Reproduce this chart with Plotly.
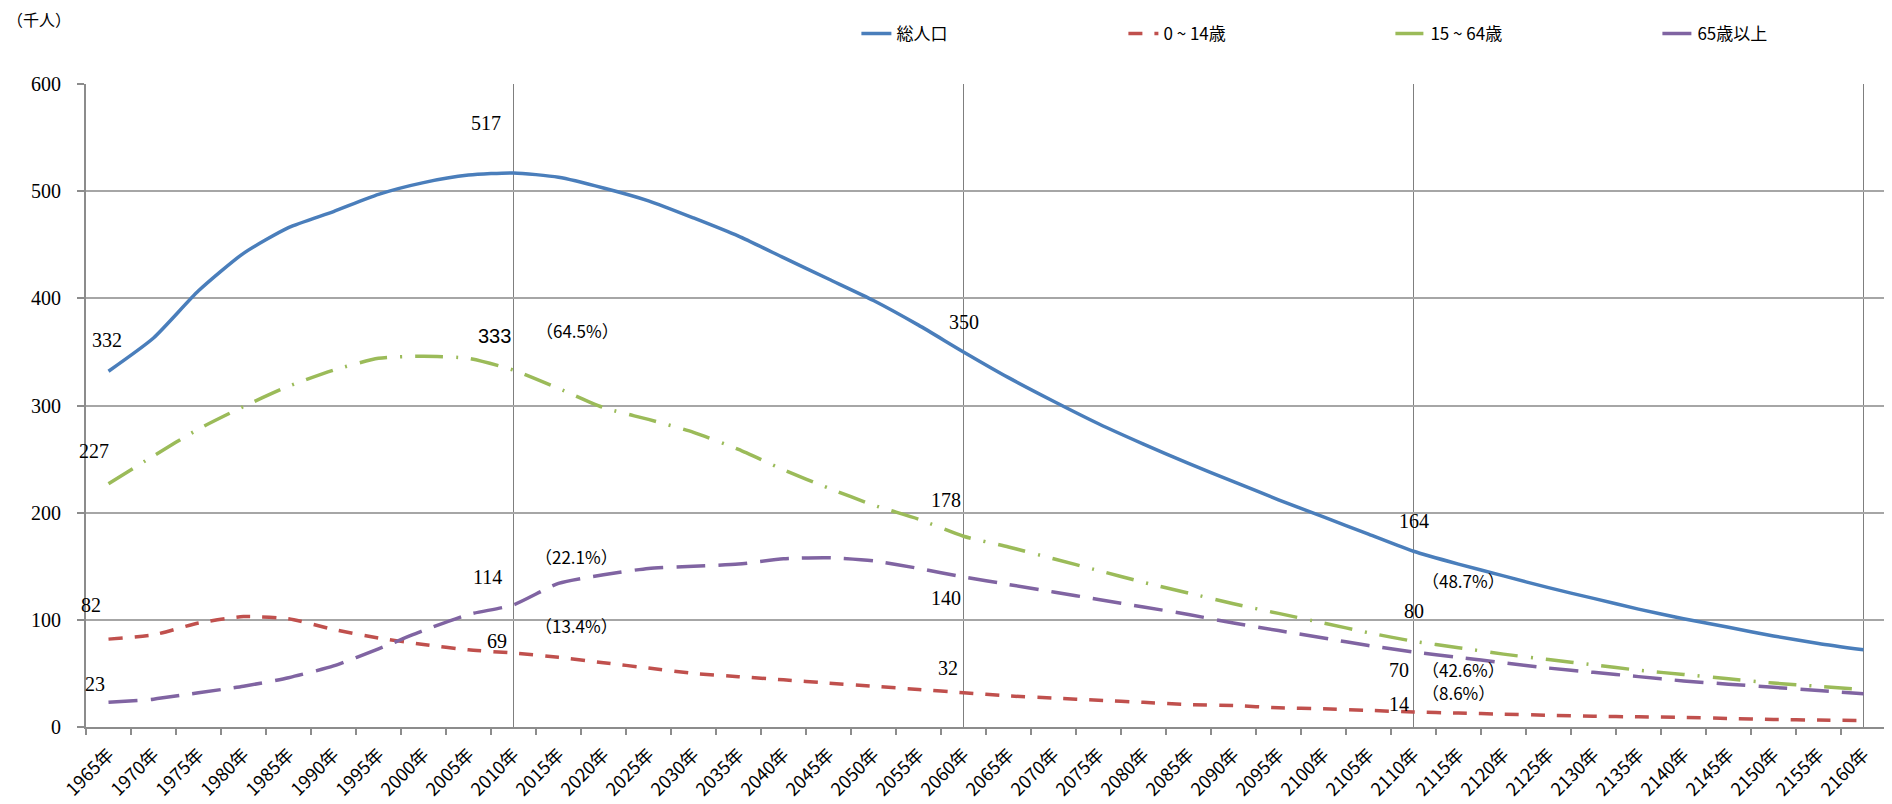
import plotly.graph_objects as go

years = [str(y) + "年" for y in range(1965, 2161, 5)]

total = [332, 363, 407, 442, 466, 481, 497, 508, 515, 517,
         513, 503, 491, 475, 458, 438, 418, 398, 375, 350,
         326, 304, 283, 264, 246, 229, 212, 196, 180, 164,
         152, 141, 130, 120, 110, 101, 93, 85, 78, 72]
age0_14 = [82, 86, 97, 103, 101, 91, 83, 77, 72, 69,
           65, 60, 55, 50, 47, 44, 41, 38, 35, 32,
           29, 27, 25, 23, 21, 20, 18, 17, 15.5, 14,
           13, 12, 11, 10, 9.5, 9, 8, 7, 6.5, 6]
age15_64 = [227, 253, 278, 299, 318, 333, 344, 346, 344, 333,
            316, 298, 287, 275, 259, 240, 223, 207, 194, 178,
            168, 157, 146, 135, 125, 115, 106, 97, 88, 80,
            74, 68, 63, 58, 53, 49, 45, 41, 38, 35]
age65 = [23, 26, 32, 38, 46, 57, 73, 90, 105, 114,
         134, 142, 148, 150, 152, 157, 158, 155, 148, 140,
         133, 126, 119, 112, 105, 97, 90, 83, 76, 70,
         65, 60, 55, 51, 47, 43, 40, 37, 34, 31]

series_names = ["総人口", "0 ~ 14歳", "15 ~ 64歳", "65歳以上"]
series_vals = [total, age0_14, age15_64, age65]
series_colors = ["#4A7EBB", "#C0504D", "#9BBB59", "#8064A2"]
series_dash = ["solid", "14px,12px", "28px,13px,2px,13px", "29px,13px"]

marker_years = ["2010年", "2060年", "2110年", "2160年"]

# value labels: (text, year, series index, xshift, yshift, style)
labels = [
    ("332", "1965年", 0, -2, 31, "serif"),
    ("227", "1965年", 2, -15, 33, "serif"),
    ("82", "1965年", 1, -18, 34, "serif"),
    ("23", "1965年", 3, -14, 18, "serif"),
    ("517", "2010年", 0, -28, 50, "serif"),
    ("333", "2010年", 2, -19, 34, "sans"),
    ("（64.5%）", "2010年", 2, 64, 40, "pct"),
    ("114", "2010年", 3, -26, 28, "serif"),
    ("（22.1%）", "2010年", 3, 63, 48, "pct"),
    ("69", "2010年", 1, -17, 12, "serif"),
    ("（13.4%）", "2010年", 1, 63, 28, "pct"),
    ("350", "2060年", 0, 0, 30, "serif"),
    ("178", "2060年", 2, -18, 36, "serif"),
    ("140", "2060年", 3, -18, -21, "serif"),
    ("32", "2060年", 1, -16, 25, "serif"),
    ("164", "2110年", 0, 0, 30, "serif"),
    ("80", "2110年", 2, 0, 30, "serif"),
    ("（48.7%）", "2110年", 2, 50, 61, "pct"),
    ("70", "2110年", 3, -15, -18, "serif"),
    ("（42.6%）", "2110年", 3, 50, -18, "pct"),
    ("14", "2110年", 1, -15, 8, "serif"),
    ("（8.6%）", "2110年", 1, 45, 20, "pct"),
]

fig = go.Figure()
for name, vals, col, dash in zip(series_names, series_vals, series_colors, series_dash):
    fig.add_trace(go.Scatter(
        x=years, y=vals, name=name, mode="lines",
        line=dict(color=col, width=3.5, dash=dash, shape="spline", smoothing=0.6),
    ))

for yr in marker_years:
    fig.add_shape(type="line", xref="x", yref="y", x0=yr, x1=yr, y0=0, y1=600,
                  line=dict(color="#7F7F7F", width=1), layer="below")

fonts = {
    "serif": dict(family="Liberation Serif, DejaVu Serif, serif", size=20, color="#000000"),
    "sans": dict(family="Liberation Sans, Arial, sans-serif", size=20, color="#000000"),
    "pct": dict(family="Noto Sans CJK JP, sans-serif", size=17, color="#000000"),
}
for text, yr, si, xs, ys, style in labels:
    idx = years.index(yr)
    fig.add_annotation(x=yr, y=series_vals[si][idx], xref="x", yref="y", text=text,
                       showarrow=False, xshift=xs, yshift=ys, font=fonts[style])

fig.add_annotation(xref="paper", yref="paper", x=-0.045, y=1.101, xanchor="left", yanchor="middle",
                   text="（千人）", showarrow=False,
                   font=dict(family="Noto Sans CJK JP, sans-serif", size=16, color="#000000"))

fig.update_layout(
    width=1884, height=796,
    margin=dict(l=78, r=6, t=76, b=77, autoexpand=False),
    paper_bgcolor="white", plot_bgcolor="white",
    showlegend=True,
    legend=dict(orientation="h", x=0.428, xanchor="left", y=1.078, yanchor="middle",
                entrywidth=222, entrywidthmode="pixels",
                font=dict(family="Noto Sans CJK JP, sans-serif", size=17, color="#000000"),
                bgcolor="rgba(0,0,0,0)"),
    xaxis=dict(type="category", range=[-0.5, 39.5], tickson="boundaries",
               ticks="outside", ticklen=6, tickcolor="#8C8C8C", tickwidth=2,
               showline=True, linecolor="#8C8C8C", linewidth=2, showgrid=False,
               tickangle=-45, ticklabelstandoff=8, automargin=False,
               tickfont=dict(family="Noto Sans CJK JP, sans-serif", size=18, color="#000000")),
    yaxis=dict(range=[0, 600], dtick=100, showgrid=True, gridcolor="#A6A6A6", gridwidth=2,
               showline=True, linecolor="#8C8C8C", linewidth=2, zeroline=False,
               ticks="outside", ticklen=7, tickcolor="#8C8C8C", tickwidth=2,
               ticklabelstandoff=12, automargin=False,
               tickfont=dict(family="Liberation Serif, DejaVu Serif, serif", size=20, color="#000000")),
)

fig.write_html("out.html")
